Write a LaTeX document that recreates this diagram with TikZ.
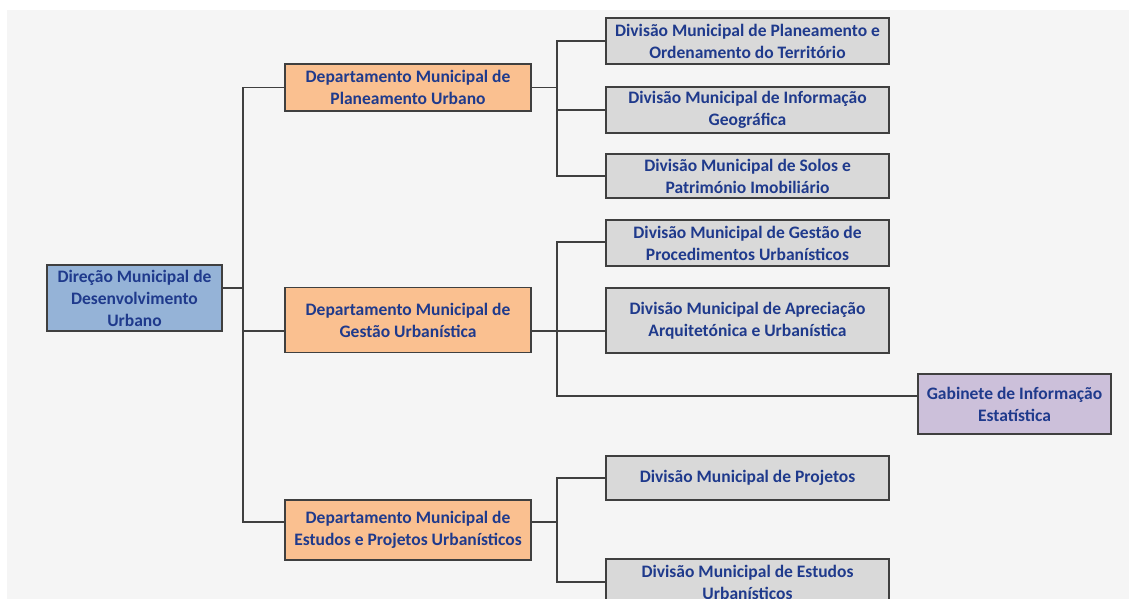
\documentclass[tikz,border=0pt]{standalone}
\usepackage{fontspec}
\setmainfont{Carlito}
\definecolor{bgc}{HTML}{F5F5F5}
\definecolor{txt}{HTML}{1F3A8C}
\definecolor{edge}{HTML}{3F3F3F}
\definecolor{rootc}{HTML}{95B3D7}
\definecolor{deptc}{HTML}{FAC090}
\definecolor{divc}{HTML}{D9D9D9}
\definecolor{gabc}{HTML}{CCC0DA}
\tikzset{
  box/.style={draw=edge, line width=1.2pt, align=center, inner sep=0pt,
    font=\fontsize{17.5}{22}\selectfont\bfseries, text=txt},
  rootbox/.style={box, fill=rootc, minimum width=175pt, minimum height=66pt},
  deptbox/.style={box, fill=deptc, minimum width=246pt},
  divbox/.style={box, fill=divc, minimum width=283pt},
  gabbox/.style={box, fill=gabc, minimum width=193pt, minimum height=60pt},
  link/.style={draw=edge, line width=1.4pt}
}
\begin{document}
\begin{tikzpicture}[x=1pt,y=-1pt]
\useasboundingbox (0,0) rectangle (1129,599);
\clip (0,0) rectangle (1129,599);
\fill[white] (0,0) rectangle (1129,599);
\fill[bgc] (7,10) rectangle (1129,599);

\node[rootbox] (root) at (134.5,298) {Direção Municipal de\\Desenvolvimento\\Urbano};

\node[deptbox, minimum height=47pt] (d1) at (408,87.5) {Departamento Municipal de\\Planeamento Urbano};
\node[deptbox, minimum height=65pt] (d2) at (408,320) {Departamento Municipal de\\Gestão Urbanística};
\node[deptbox, minimum height=60pt] (d3) at (408,530) {Departamento Municipal de\\Estudos e Projetos Urbanísticos};

\node[divbox, minimum height=46pt] (v1) at (747.5,41) {Divisão Municipal de Planeamento e\\Ordenamento do Território};
\node[divbox, minimum height=46pt] (v2) at (747.5,110) {Divisão Municipal de Informação\\Geográfica};
\node[divbox, minimum height=44pt] (v3) at (747.5,176) {Divisão Municipal de Solos e\\Património Imobiliário};
\node[divbox, minimum height=46pt] (v4) at (747.5,243) {Divisão Municipal de Gestão de\\Procedimentos Urbanísticos};
\node[divbox, minimum height=65pt] (v5) at (747.5,320.5) {Divisão Municipal de Apreciação\\Arquitetónica e Urbanística};
\node[gabbox] (gab) at (1014.5,404) {Gabinete de Informação\\Estatística};
\node[divbox, minimum height=44pt] (v6) at (747.5,478) {Divisão Municipal de Projetos};
\node[divbox, minimum height=46pt] (v7) at (747.5,582) {Divisão Municipal de Estudos\\Urbanísticos};

% bus positions
\coordinate (tr) at (243,0);
\coordinate (b1) at (557,0);
% connector anchor points
\coordinate (rootc) at ([yshift=10pt]root.east);
\coordinate (d2w) at ([yshift=-11pt]d2.west);
\coordinate (d3w) at ([yshift=8pt]d3.west);
\coordinate (d2e) at ([yshift=-11pt]d2.east);
\coordinate (d3e) at ([yshift=8pt]d3.east);
\coordinate (v5w) at ([yshift=-10.5pt]v5.west);
\coordinate (gabw) at ([yshift=8pt]gab.west);
\coordinate (v4w) at ([yshift=1pt]v4.west);

% trunk from root
\draw[link] (d1.west) -- (d1.west -| tr) -- (d3w -| tr) -- (d3w);
\draw[link] (rootc) -- (rootc -| tr);
\draw[link] (d2w) -- (d2w -| tr);

% department 1 bus
\draw[link] (v1.west) -- (v1.west -| b1) -- (v3.west -| b1) -- (v3.west);
\draw[link] (v2.west) -- (v2.west -| b1);
\draw[link] (d1.east) -- (d1.east -| b1);

% department 2 bus
\draw[link] (v4w) -- (v4w -| b1) -- (gabw -| b1) -- (gabw);
\draw[link] (d2e) -- (v5w);

% department 3 bus
\draw[link] (v6.west) -- (v6.west -| b1) -- (v7.west -| b1) -- (v7.west);
\draw[link] (d3e) -- (d3e -| b1);
\end{tikzpicture}
\end{document}
